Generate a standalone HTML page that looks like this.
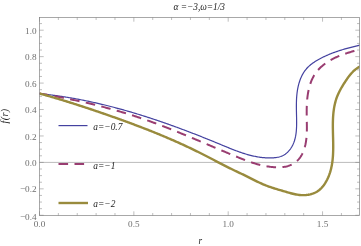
<!DOCTYPE html>
<html><head><meta charset="utf-8"><style>
html,body{margin:0;padding:0;background:#fff;}
svg{display:block;will-change:transform;}
text{font-family:"Liberation Serif",serif;}
</style></head><body>
<svg width="361" height="246" viewBox="0 0 361 246">
<rect width="361" height="246" fill="#fff"/>
<defs><clipPath id="c"><rect x="39.5" y="17.5" width="320.0" height="198.0"/></clipPath></defs>
<line x1="39.5" x2="359.5" y1="162.4" y2="162.4" stroke="#8c8c8c" stroke-width="0.6"/>
<g clip-path="url(#c)" fill="none" stroke-linejoin="round">
<path d="M39.31,93.61 L40.34,93.71 L41.37,93.82 L42.39,93.93 L43.42,94.04 L44.44,94.15 L45.47,94.27 L46.49,94.39 L47.51,94.51 L48.53,94.63 L49.55,94.76 L50.57,94.89 L51.59,95.02 L52.61,95.15 L53.63,95.29 L54.65,95.42 L55.66,95.56 L56.68,95.70 L57.70,95.85 L58.71,96.00 L59.73,96.14 L60.74,96.30 L61.75,96.45 L62.77,96.60 L63.78,96.76 L64.79,96.92 L65.80,97.08 L66.81,97.25 L67.82,97.41 L68.83,97.58 L69.84,97.75 L70.85,97.93 L71.86,98.10 L72.86,98.28 L73.87,98.46 L74.88,98.64 L75.88,98.82 L76.89,99.01 L77.89,99.20 L78.89,99.39 L79.90,99.58 L80.90,99.77 L81.90,99.97 L82.90,100.17 L83.90,100.37 L84.90,100.57 L85.90,100.78 L86.90,100.98 L87.90,101.19 L88.90,101.40 L89.90,101.61 L90.89,101.83 L91.89,102.04 L92.89,102.26 L93.88,102.48 L94.88,102.70 L95.87,102.93 L96.86,103.15 L97.86,103.38 L98.85,103.61 L99.84,103.84 L100.84,104.08 L101.83,104.31 L102.82,104.55 L103.81,104.79 L104.80,105.03 L105.79,105.27 L106.78,105.52 L107.76,105.76 L108.75,106.01 L109.74,106.26 L110.73,106.51 L111.71,106.76 L112.70,107.02 L113.68,107.28 L114.67,107.54 L115.65,107.80 L116.64,108.06 L117.62,108.32 L118.61,108.59 L119.59,108.86 L120.57,109.12 L121.55,109.40 L122.53,109.67 L123.51,109.94 L124.49,110.22 L125.47,110.50 L126.45,110.77 L127.43,111.05 L128.41,111.34 L129.39,111.62 L130.37,111.91 L131.35,112.19 L132.32,112.48 L133.30,112.77 L134.28,113.06 L135.25,113.36 L136.23,113.65 L137.20,113.95 L138.18,114.25 L139.15,114.55 L140.12,114.85 L141.10,115.15 L142.07,115.45 L143.04,115.76 L144.02,116.07 L144.99,116.37 L145.96,116.68 L146.93,116.99 L147.90,117.31 L148.87,117.62 L149.84,117.94 L150.81,118.25 L151.78,118.57 L152.75,118.89 L153.72,119.21 L154.68,119.54 L155.65,119.86 L156.62,120.18 L157.59,120.51 L158.55,120.84 L159.52,121.17 L160.48,121.50 L161.45,121.83 L162.42,122.16 L163.38,122.50 L164.35,122.83 L165.31,123.17 L166.27,123.51 L167.24,123.85 L168.20,124.19 L169.16,124.53 L170.13,124.87 L171.09,125.22 L172.05,125.56 L173.01,125.91 L173.97,126.26 L174.93,126.60 L175.89,126.95 L176.85,127.31 L177.81,127.66 L178.77,128.01 L179.73,128.37 L180.69,128.72 L181.65,129.08 L182.61,129.44 L183.57,129.79 L184.53,130.16 L185.48,130.52 L186.44,130.88 L187.40,131.24 L188.36,131.61 L189.31,131.97 L190.27,132.34 L191.22,132.70 L192.18,133.07 L193.14,133.44 L194.09,133.81 L195.05,134.18 L196.00,134.56 L196.96,134.93 L197.91,135.30 L198.86,135.68 L199.82,136.05 L200.77,136.43 L201.72,136.81 L202.68,137.19 L203.63,137.57 L204.58,137.95 L205.54,138.33 L206.49,138.71 L207.44,139.09 L208.39,139.48 L209.34,139.86 L210.29,140.25 L211.25,140.63 L212.20,141.02 L213.15,141.41 L214.10,141.80 L215.05,142.19 L216.00,142.58 L216.95,142.97 L217.90,143.36 L218.85,143.75 L219.80,144.15 L220.75,144.54 L221.69,144.94 L222.64,145.33 L223.59,145.72 L224.54,146.12 L225.49,146.51 L226.44,146.90 L227.39,147.29 L228.34,147.68 L229.29,148.07 L230.24,148.45 L231.19,148.83 L232.14,149.21 L233.10,149.59 L234.05,149.96 L235.01,150.32 L235.96,150.69 L236.92,151.04 L237.87,151.39 L238.83,151.74 L239.79,152.08 L240.75,152.42 L241.72,152.74 L242.68,153.06 L243.65,153.38 L244.61,153.68 L245.58,153.98 L246.55,154.27 L247.52,154.55 L248.50,154.83 L249.47,155.09 L250.45,155.34 L251.43,155.59 L252.41,155.82 L253.40,156.05 L254.38,156.26 L255.37,156.46 L256.36,156.65 L257.36,156.83 L258.35,157.00 L259.35,157.15 L260.35,157.29 L261.36,157.42 L262.37,157.53 L263.38,157.63 L264.39,157.72 L265.41,157.79 L266.43,157.84 L267.45,157.88 L268.47,157.91 L269.50,157.92 L270.54,157.91 L271.57,157.89 L272.61,157.85 L273.65,157.79 L274.69,157.70 L275.72,157.59 L276.75,157.45 L277.76,157.27 L278.77,157.05 L279.76,156.79 L280.73,156.49 L281.68,156.14 L282.61,155.73 L283.52,155.27 L284.39,154.76 L285.24,154.19 L286.06,153.57 L286.85,152.91 L287.61,152.20 L288.33,151.46 L289.02,150.69 L289.68,149.89 L290.31,149.06 L290.89,148.22 L291.44,147.36 L291.96,146.49 L292.44,145.61 L292.89,144.71 L293.30,143.80 L293.69,142.88 L294.04,141.94 L294.37,141.00 L294.67,140.04 L294.94,139.08 L295.18,138.11 L295.41,137.12 L295.61,136.13 L295.78,135.14 L295.94,134.13 L296.08,133.12 L296.20,132.11 L296.30,131.08 L296.38,130.06 L296.45,129.03 L296.51,127.99 L296.55,126.96 L296.59,125.92 L296.61,124.88 L296.62,123.83 L296.62,122.79 L296.62,121.75 L296.61,120.70 L296.60,119.66 L296.59,118.62 L296.57,117.58 L296.55,116.54 L296.53,115.51 L296.50,114.47 L296.48,113.44 L296.46,112.41 L296.44,111.38 L296.42,110.35 L296.41,109.32 L296.40,108.30 L296.39,107.27 L296.38,106.25 L296.38,105.23 L296.39,104.22 L296.41,103.20 L296.43,102.18 L296.46,101.17 L296.49,100.16 L296.54,99.15 L296.59,98.14 L296.66,97.13 L296.74,96.13 L296.83,95.12 L296.93,94.12 L297.04,93.12 L297.17,92.12 L297.31,91.12 L297.46,90.12 L297.63,89.13 L297.82,88.14 L298.03,87.14 L298.25,86.15 L298.49,85.16 L298.74,84.18 L299.02,83.19 L299.32,82.21 L299.63,81.23 L299.97,80.26 L300.33,79.29 L300.71,78.34 L301.11,77.39 L301.53,76.46 L301.98,75.54 L302.45,74.63 L302.95,73.74 L303.47,72.86 L304.01,72.00 L304.58,71.16 L305.18,70.34 L305.81,69.54 L306.46,68.76 L307.13,68.01 L307.83,67.28 L308.56,66.57 L309.31,65.88 L310.08,65.21 L310.86,64.56 L311.67,63.92 L312.49,63.31 L313.33,62.71 L314.19,62.13 L315.05,61.56 L315.93,61.01 L316.82,60.48 L317.72,59.95 L318.62,59.45 L319.53,58.95 L320.45,58.46 L321.37,57.99 L322.29,57.52 L323.21,57.07 L324.14,56.62 L325.07,56.19 L326.00,55.76 L326.93,55.35 L327.87,54.94 L328.81,54.54 L329.75,54.15 L330.70,53.77 L331.64,53.40 L332.59,53.03 L333.54,52.68 L334.50,52.33 L335.45,51.98 L336.41,51.65 L337.37,51.32 L338.33,51.00 L339.30,50.68 L340.26,50.37 L341.23,50.07 L342.20,49.77 L343.17,49.48 L344.15,49.19 L345.13,48.91 L346.11,48.63 L347.09,48.36 L348.07,48.09 L349.05,47.83 L350.04,47.57 L351.03,47.31 L352.02,47.06 L353.01,46.81 L354.01,46.56 L355.00,46.31 L356.00,46.07 L357.00,45.83 L358.00,45.60 L359.01,45.36 L360.01,45.13 L361.02,44.90" stroke="#4442a0" stroke-width="1.2"/>
<path d="M38.66,93.38 L39.68,93.55 L40.70,93.72 L41.72,93.89 L42.75,94.07 L43.77,94.24 L44.79,94.42 L45.81,94.60 L46.84,94.78 L47.86,94.96 L48.88,95.14 L49.91,95.33 L50.93,95.51 L51.95,95.70 L52.98,95.88 L54.00,96.07 L55.02,96.26 L56.05,96.46 L57.07,96.65 L58.09,96.84 L59.12,97.04 L60.14,97.24 L61.16,97.43 L62.19,97.63 L63.21,97.83 L64.23,98.04 L65.26,98.24 L66.28,98.45 L67.30,98.65 L68.33,98.86 L69.35,99.07 L70.37,99.28 L71.39,99.50 L72.41,99.71 L73.44,99.92 L74.46,100.14 L75.48,100.36 L76.50,100.58 L77.52,100.80 L78.54,101.03 L79.57,101.25 L80.59,101.48 L81.61,101.70 L82.63,101.93 L83.65,102.16 L84.67,102.40 L85.68,102.63 L86.70,102.87 L87.72,103.10 L88.74,103.34 L89.76,103.58 L90.78,103.83 L91.79,104.07 L92.81,104.31 L93.83,104.56 L94.84,104.81 L95.86,105.06 L96.87,105.31 L97.89,105.57 L98.90,105.82 L99.92,106.08 L100.93,106.34 L101.94,106.60 L102.96,106.86 L103.97,107.12 L104.98,107.39 L105.99,107.66 L107.00,107.93 L108.01,108.20 L109.02,108.47 L110.03,108.74 L111.04,109.02 L112.05,109.30 L113.06,109.58 L114.07,109.86 L115.07,110.14 L116.08,110.43 L117.08,110.72 L118.09,111.01 L119.09,111.30 L120.09,111.59 L121.10,111.89 L122.10,112.18 L123.10,112.48 L124.10,112.78 L125.10,113.08 L126.10,113.39 L127.10,113.69 L128.10,114.00 L129.09,114.31 L130.09,114.62 L131.09,114.94 L132.08,115.25 L133.08,115.57 L134.07,115.89 L135.06,116.21 L136.05,116.54 L137.05,116.86 L138.04,117.19 L139.02,117.52 L140.01,117.85 L141.00,118.19 L141.99,118.52 L142.97,118.86 L143.96,119.20 L144.94,119.54 L145.93,119.89 L146.91,120.23 L147.89,120.58 L148.87,120.93 L149.85,121.28 L150.83,121.64 L151.81,121.99 L152.79,122.35 L153.77,122.70 L154.75,123.06 L155.72,123.43 L156.70,123.79 L157.67,124.15 L158.65,124.52 L159.62,124.89 L160.60,125.26 L161.57,125.63 L162.54,126.00 L163.51,126.37 L164.48,126.75 L165.45,127.12 L166.43,127.50 L167.39,127.88 L168.36,128.26 L169.33,128.64 L170.30,129.03 L171.27,129.41 L172.24,129.79 L173.20,130.18 L174.17,130.57 L175.14,130.96 L176.10,131.34 L177.07,131.74 L178.03,132.13 L179.00,132.52 L179.96,132.91 L180.93,133.31 L181.89,133.70 L182.85,134.10 L183.82,134.49 L184.78,134.89 L185.74,135.29 L186.70,135.69 L187.67,136.09 L188.63,136.49 L189.59,136.89 L190.55,137.29 L191.51,137.69 L192.48,138.10 L193.44,138.50 L194.40,138.90 L195.36,139.31 L196.32,139.71 L197.28,140.12 L198.24,140.52 L199.20,140.93 L200.16,141.34 L201.12,141.74 L202.08,142.15 L203.04,142.56 L204.00,142.97 L204.97,143.37 L205.93,143.78 L206.89,144.19 L207.85,144.60 L208.81,145.01 L209.77,145.42 L210.73,145.82 L211.69,146.23 L212.65,146.64 L213.61,147.05 L214.57,147.46 L215.54,147.87 L216.50,148.27 L217.46,148.68 L218.42,149.09 L219.38,149.50 L220.35,149.91 L221.31,150.31 L222.27,150.72 L223.24,151.13 L224.20,151.53 L225.16,151.94 L226.13,152.34 L227.09,152.75 L228.06,153.15 L229.02,153.56 L229.99,153.96 L230.95,154.37 L231.92,154.77 L232.89,155.17 L233.85,155.57 L234.82,155.97 L235.79,156.37 L236.76,156.77 L237.73,157.17 L238.70,157.57 L239.67,157.96 L240.64,158.35 L241.61,158.74 L242.59,159.12 L243.56,159.50 L244.54,159.88 L245.51,160.25 L246.49,160.62 L247.47,160.98 L248.46,161.34 L249.44,161.69 L250.42,162.03 L251.41,162.37 L252.40,162.70 L253.39,163.02 L254.39,163.33 L255.38,163.63 L256.38,163.93 L257.38,164.21 L258.38,164.49 L259.39,164.75 L260.40,165.01 L261.41,165.25 L262.43,165.48 L263.44,165.71 L264.46,165.91 L265.49,166.11 L266.51,166.29 L267.55,166.46 L268.58,166.61 L269.62,166.75 L270.66,166.88 L271.70,166.99 L272.75,167.09 L273.81,167.17 L274.86,167.23 L275.92,167.28 L276.99,167.30 L278.05,167.31 L279.12,167.30 L280.18,167.26 L281.24,167.20 L282.29,167.10 L283.34,166.98 L284.38,166.83 L285.41,166.65 L286.43,166.43 L287.43,166.17 L288.42,165.88 L289.39,165.55 L290.35,165.17 L291.28,164.76 L292.20,164.31 L293.09,163.82 L293.96,163.30 L294.80,162.73 L295.61,162.14 L296.40,161.51 L297.15,160.84 L297.88,160.14 L298.57,159.41 L299.22,158.64 L299.85,157.85 L300.43,157.02 L300.99,156.17 L301.51,155.30 L302.01,154.39 L302.47,153.47 L302.91,152.53 L303.31,151.57 L303.69,150.59 L304.05,149.59 L304.37,148.58 L304.68,147.56 L304.96,146.53 L305.21,145.49 L305.45,144.44 L305.66,143.39 L305.85,142.33 L306.02,141.27 L306.17,140.22 L306.31,139.16 L306.43,138.10 L306.53,137.05 L306.61,136.00 L306.69,134.95 L306.75,133.90 L306.79,132.85 L306.83,131.81 L306.86,130.76 L306.87,129.72 L306.88,128.68 L306.88,127.63 L306.88,126.59 L306.87,125.55 L306.86,124.51 L306.84,123.46 L306.83,122.42 L306.81,121.38 L306.79,120.33 L306.77,119.29 L306.75,118.24 L306.74,117.20 L306.72,116.15 L306.71,115.11 L306.70,114.06 L306.70,113.02 L306.69,111.97 L306.70,110.92 L306.70,109.88 L306.72,108.83 L306.74,107.79 L306.77,106.75 L306.80,105.70 L306.84,104.66 L306.89,103.62 L306.95,102.58 L307.02,101.54 L307.10,100.50 L307.19,99.46 L307.30,98.42 L307.41,97.39 L307.54,96.35 L307.67,95.32 L307.83,94.29 L307.99,93.26 L308.17,92.23 L308.37,91.20 L308.58,90.18 L308.81,89.16 L309.05,88.14 L309.32,87.12 L309.60,86.11 L309.89,85.11 L310.21,84.12 L310.55,83.13 L310.91,82.15 L311.28,81.18 L311.68,80.22 L312.10,79.27 L312.55,78.33 L313.01,77.41 L313.50,76.50 L314.02,75.60 L314.55,74.72 L315.12,73.86 L315.71,73.01 L316.32,72.18 L316.96,71.37 L317.62,70.57 L318.30,69.79 L319.00,69.03 L319.73,68.28 L320.47,67.55 L321.23,66.84 L322.01,66.15 L322.81,65.47 L323.62,64.81 L324.44,64.17 L325.28,63.54 L326.13,62.93 L326.99,62.34 L327.87,61.76 L328.75,61.20 L329.65,60.66 L330.56,60.13 L331.47,59.62 L332.40,59.12 L333.33,58.63 L334.27,58.16 L335.22,57.71 L336.17,57.26 L337.14,56.83 L338.10,56.41 L339.08,56.00 L340.06,55.60 L341.04,55.22 L342.03,54.84 L343.02,54.48 L344.01,54.12 L345.01,53.78 L346.01,53.44 L347.01,53.11 L348.01,52.79 L349.02,52.48 L350.02,52.17 L351.02,51.88 L352.03,51.58 L353.03,51.30 L354.03,51.02 L355.02,50.75 L356.02,50.48 L357.01,50.21 L358.00,49.95 L358.98,49.70 L359.96,49.44 L360.93,49.20" stroke="#993d71" stroke-width="2" stroke-dasharray="9.6 6.4"/>
<path d="M39.43,93.49 L40.49,93.78 L41.55,94.07 L42.60,94.37 L43.66,94.67 L44.71,94.96 L45.77,95.26 L46.82,95.56 L47.88,95.86 L48.93,96.17 L49.99,96.47 L51.04,96.78 L52.09,97.08 L53.15,97.39 L54.20,97.70 L55.25,98.01 L56.30,98.32 L57.35,98.64 L58.40,98.95 L59.45,99.27 L60.50,99.59 L61.55,99.90 L62.60,100.22 L63.65,100.54 L64.70,100.87 L65.75,101.19 L66.80,101.51 L67.85,101.84 L68.89,102.16 L69.94,102.49 L70.99,102.82 L72.03,103.15 L73.08,103.48 L74.13,103.81 L75.17,104.15 L76.22,104.48 L77.26,104.82 L78.31,105.15 L79.35,105.49 L80.40,105.83 L81.44,106.17 L82.48,106.51 L83.53,106.85 L84.57,107.19 L85.61,107.53 L86.65,107.88 L87.70,108.22 L88.74,108.57 L89.78,108.92 L90.82,109.26 L91.86,109.61 L92.90,109.96 L93.94,110.31 L94.98,110.66 L96.02,111.02 L97.06,111.37 L98.10,111.72 L99.14,112.08 L100.18,112.43 L101.22,112.79 L102.26,113.15 L103.29,113.50 L104.33,113.86 L105.37,114.22 L106.41,114.58 L107.44,114.94 L108.48,115.31 L109.51,115.67 L110.55,116.03 L111.59,116.39 L112.62,116.76 L113.66,117.12 L114.69,117.49 L115.73,117.86 L116.76,118.23 L117.80,118.60 L118.83,118.96 L119.86,119.34 L120.90,119.71 L121.93,120.08 L122.96,120.45 L123.99,120.83 L125.02,121.20 L126.05,121.58 L127.09,121.96 L128.12,122.33 L129.15,122.71 L130.17,123.09 L131.20,123.47 L132.23,123.86 L133.26,124.24 L134.29,124.63 L135.32,125.01 L136.34,125.40 L137.37,125.79 L138.39,126.18 L139.42,126.57 L140.45,126.96 L141.47,127.35 L142.49,127.75 L143.52,128.14 L144.54,128.54 L145.56,128.94 L146.58,129.33 L147.61,129.73 L148.63,130.14 L149.65,130.54 L150.67,130.94 L151.68,131.35 L152.70,131.76 L153.72,132.17 L154.74,132.58 L155.75,132.99 L156.77,133.40 L157.79,133.82 L158.80,134.23 L159.81,134.65 L160.83,135.07 L161.84,135.49 L162.85,135.91 L163.86,136.34 L164.88,136.76 L165.89,137.19 L166.89,137.62 L167.90,138.05 L168.91,138.48 L169.92,138.91 L170.92,139.35 L171.93,139.78 L172.94,140.22 L173.94,140.66 L174.94,141.10 L175.95,141.55 L176.95,141.99 L177.95,142.44 L178.95,142.89 L179.95,143.34 L180.95,143.79 L181.95,144.25 L182.94,144.71 L183.94,145.16 L184.94,145.62 L185.93,146.09 L186.92,146.55 L187.92,147.02 L188.91,147.48 L189.90,147.95 L190.89,148.43 L191.88,148.90 L192.87,149.38 L193.86,149.85 L194.84,150.33 L195.83,150.82 L196.81,151.30 L197.80,151.79 L198.78,152.28 L199.76,152.77 L200.74,153.26 L201.72,153.75 L202.70,154.25 L203.68,154.75 L204.66,155.25 L205.64,155.75 L206.61,156.25 L207.59,156.76 L208.56,157.26 L209.54,157.77 L210.51,158.28 L211.49,158.78 L212.46,159.29 L213.44,159.80 L214.41,160.31 L215.38,160.81 L216.36,161.32 L217.33,161.83 L218.31,162.33 L219.28,162.84 L220.26,163.35 L221.23,163.85 L222.21,164.35 L223.18,164.85 L224.16,165.35 L225.14,165.85 L226.11,166.35 L227.09,166.84 L228.07,167.33 L229.05,167.82 L230.03,168.31 L231.01,168.80 L232.00,169.28 L232.98,169.76 L233.97,170.24 L234.95,170.71 L235.94,171.18 L236.93,171.65 L237.92,172.11 L238.91,172.58 L239.90,173.05 L240.89,173.51 L241.88,173.98 L242.87,174.45 L243.86,174.93 L244.84,175.41 L245.83,175.89 L246.81,176.38 L247.80,176.87 L248.78,177.37 L249.76,177.86 L250.74,178.36 L251.73,178.86 L252.71,179.36 L253.69,179.85 L254.68,180.35 L255.66,180.84 L256.65,181.32 L257.64,181.80 L258.63,182.28 L259.62,182.75 L260.62,183.21 L261.61,183.66 L262.62,184.10 L263.62,184.53 L264.63,184.95 L265.64,185.36 L266.66,185.75 L267.68,186.14 L268.71,186.51 L269.73,186.88 L270.76,187.23 L271.80,187.58 L272.84,187.92 L273.88,188.25 L274.92,188.58 L275.96,188.90 L277.01,189.22 L278.06,189.53 L279.11,189.84 L280.16,190.15 L281.22,190.46 L282.27,190.77 L283.33,191.08 L284.39,191.39 L285.45,191.70 L286.50,192.01 L287.56,192.32 L288.63,192.63 L289.69,192.93 L290.76,193.22 L291.82,193.50 L292.89,193.77 L293.97,194.02 L295.05,194.25 L296.13,194.46 L297.21,194.65 L298.30,194.81 L299.40,194.94 L300.50,195.04 L301.61,195.10 L302.71,195.14 L303.82,195.13 L304.93,195.09 L306.03,195.01 L307.13,194.90 L308.22,194.74 L309.30,194.55 L310.36,194.31 L311.42,194.03 L312.45,193.71 L313.47,193.35 L314.46,192.94 L315.44,192.48 L316.39,191.98 L317.31,191.43 L318.20,190.83 L319.06,190.19 L319.89,189.49 L320.69,188.76 L321.46,187.98 L322.20,187.17 L322.91,186.32 L323.60,185.44 L324.25,184.54 L324.87,183.61 L325.47,182.66 L326.04,181.69 L326.58,180.71 L327.10,179.72 L327.58,178.72 L328.05,177.71 L328.48,176.70 L328.90,175.68 L329.29,174.65 L329.65,173.62 L330.00,172.59 L330.32,171.55 L330.62,170.50 L330.90,169.45 L331.16,168.40 L331.40,167.34 L331.62,166.28 L331.82,165.21 L332.01,164.14 L332.18,163.07 L332.34,161.99 L332.48,160.91 L332.60,159.82 L332.71,158.74 L332.81,157.65 L332.89,156.56 L332.97,155.46 L333.03,154.36 L333.08,153.26 L333.12,152.16 L333.16,151.06 L333.18,149.96 L333.20,148.85 L333.21,147.74 L333.21,146.63 L333.21,145.52 L333.20,144.41 L333.19,143.30 L333.17,142.19 L333.15,141.08 L333.13,139.97 L333.10,138.85 L333.08,137.74 L333.05,136.63 L333.02,135.52 L332.99,134.41 L332.97,133.29 L332.94,132.18 L332.92,131.07 L332.90,129.96 L332.88,128.85 L332.87,127.75 L332.86,126.64 L332.86,125.54 L332.86,124.43 L332.87,123.33 L332.89,122.23 L332.91,121.13 L332.95,120.04 L332.99,118.94 L333.04,117.85 L333.10,116.76 L333.18,115.68 L333.26,114.59 L333.36,113.51 L333.47,112.43 L333.59,111.36 L333.73,110.28 L333.88,109.22 L334.05,108.15 L334.23,107.09 L334.43,106.03 L334.65,104.98 L334.88,103.93 L335.14,102.88 L335.41,101.84 L335.70,100.80 L336.01,99.77 L336.34,98.74 L336.70,97.72 L337.07,96.70 L337.47,95.68 L337.90,94.68 L338.34,93.67 L338.81,92.67 L339.30,91.68 L339.81,90.69 L340.33,89.71 L340.87,88.74 L341.42,87.77 L341.99,86.80 L342.56,85.84 L343.15,84.89 L343.74,83.94 L344.34,83.00 L344.95,82.06 L345.55,81.13 L346.17,80.21 L346.78,79.30 L347.41,78.40 L348.05,77.51 L348.70,76.63 L349.36,75.77 L350.04,74.92 L350.73,74.09 L351.45,73.28 L352.18,72.49 L352.93,71.72 L353.71,70.97 L354.51,70.25 L355.34,69.55 L356.20,68.88 L357.09,68.24 L358.00,67.63 L358.96,67.05 L359.94,66.50 L360.97,65.98" stroke="#998b3d" stroke-width="2.4"/>
</g>
<g fill="none">
<path d="M58.5,125.6 H87.5" stroke="#4442a0" stroke-width="1.2"/>
<path d="M58.5,164 H87.5" stroke="#993d71" stroke-width="2" stroke-dasharray="9.6 6.4"/>
<path d="M58.5,203 H88" stroke="#998b3d" stroke-width="2.4"/>
</g>
<rect x="39.5" y="17.5" width="320.0" height="198.0" fill="none" stroke="#808080" stroke-width="0.68"/>
<path d="M39.50,215.28 h4.20 M359.50,215.28 h-4.20 M39.50,208.67 h2.50 M359.50,208.67 h-2.50 M39.50,202.06 h2.50 M359.50,202.06 h-2.50 M39.50,195.45 h2.50 M359.50,195.45 h-2.50 M39.50,188.84 h4.20 M359.50,188.84 h-4.20 M39.50,182.23 h2.50 M359.50,182.23 h-2.50 M39.50,175.62 h2.50 M359.50,175.62 h-2.50 M39.50,169.01 h2.50 M359.50,169.01 h-2.50 M39.50,162.40 h4.20 M359.50,162.40 h-4.20 M39.50,155.79 h2.50 M359.50,155.79 h-2.50 M39.50,149.18 h2.50 M359.50,149.18 h-2.50 M39.50,142.57 h2.50 M359.50,142.57 h-2.50 M39.50,135.96 h4.20 M359.50,135.96 h-4.20 M39.50,129.35 h2.50 M359.50,129.35 h-2.50 M39.50,122.74 h2.50 M359.50,122.74 h-2.50 M39.50,116.13 h2.50 M359.50,116.13 h-2.50 M39.50,109.52 h4.20 M359.50,109.52 h-4.20 M39.50,102.91 h2.50 M359.50,102.91 h-2.50 M39.50,96.30 h2.50 M359.50,96.30 h-2.50 M39.50,89.69 h2.50 M359.50,89.69 h-2.50 M39.50,83.08 h4.20 M359.50,83.08 h-4.20 M39.50,76.47 h2.50 M359.50,76.47 h-2.50 M39.50,69.86 h2.50 M359.50,69.86 h-2.50 M39.50,63.25 h2.50 M359.50,63.25 h-2.50 M39.50,56.64 h4.20 M359.50,56.64 h-4.20 M39.50,50.03 h2.50 M359.50,50.03 h-2.50 M39.50,43.42 h2.50 M359.50,43.42 h-2.50 M39.50,36.81 h2.50 M359.50,36.81 h-2.50 M39.50,30.20 h4.20 M359.50,30.20 h-4.20 M39.50,23.59 h2.50 M359.50,23.59 h-2.50 M39.50,215.50 v-4.20 M39.50,17.50 v4.20 M58.37,215.50 v-2.50 M58.37,17.50 v2.50 M77.24,215.50 v-2.50 M77.24,17.50 v2.50 M96.11,215.50 v-2.50 M96.11,17.50 v2.50 M114.98,215.50 v-2.50 M114.98,17.50 v2.50 M133.85,215.50 v-4.20 M133.85,17.50 v4.20 M152.72,215.50 v-2.50 M152.72,17.50 v2.50 M171.59,215.50 v-2.50 M171.59,17.50 v2.50 M190.46,215.50 v-2.50 M190.46,17.50 v2.50 M209.33,215.50 v-2.50 M209.33,17.50 v2.50 M228.20,215.50 v-4.20 M228.20,17.50 v4.20 M247.07,215.50 v-2.50 M247.07,17.50 v2.50 M265.94,215.50 v-2.50 M265.94,17.50 v2.50 M284.81,215.50 v-2.50 M284.81,17.50 v2.50 M303.68,215.50 v-2.50 M303.68,17.50 v2.50 M322.55,215.50 v-4.20 M322.55,17.50 v4.20 M341.42,215.50 v-2.50 M341.42,17.50 v2.50" stroke="#7f7f7f" stroke-width="0.5" fill="none"/>
<g font-size="9.2" fill="#6e6e6e">
<text x="36.6" y="33.80" text-anchor="end">1.0</text>
<text x="36.6" y="60.24" text-anchor="end">0.8</text>
<text x="36.6" y="86.68" text-anchor="end">0.6</text>
<text x="36.6" y="113.12" text-anchor="end">0.4</text>
<text x="36.6" y="139.56" text-anchor="end">0.2</text>
<text x="36.6" y="166.00" text-anchor="end">0.0</text>
<text x="36.6" y="192.44" text-anchor="end">−0.2</text>
<text x="36.6" y="219.58" text-anchor="end">−0.4</text>
<text x="39.50" y="227.0" text-anchor="middle">0.0</text>
<text x="133.85" y="227.0" text-anchor="middle">0.5</text>
<text x="228.20" y="227.0" text-anchor="middle">1.0</text>
<text x="322.55" y="227.0" text-anchor="middle">1.5</text>
</g>
<g font-size="9.4" font-style="italic" fill="#1a1a1a">
<text x="93.3" y="130">a=−0.7</text>
<text x="93.3" y="168.9">a=−1</text>
<text x="93.3" y="207.3">a=−2</text>
</g>
<g font-size="9.3" font-style="italic" fill="#1a1a1a">
<text x="199.3" y="9.5" text-anchor="middle">α =−3,ω=1/3</text>
<text x="200.2" y="244" text-anchor="middle">r</text>
<text transform="translate(8.2,116) rotate(-90)" text-anchor="middle" font-size="10" letter-spacing="0.4">f(r)</text>
</g>
</svg>
</body></html>
